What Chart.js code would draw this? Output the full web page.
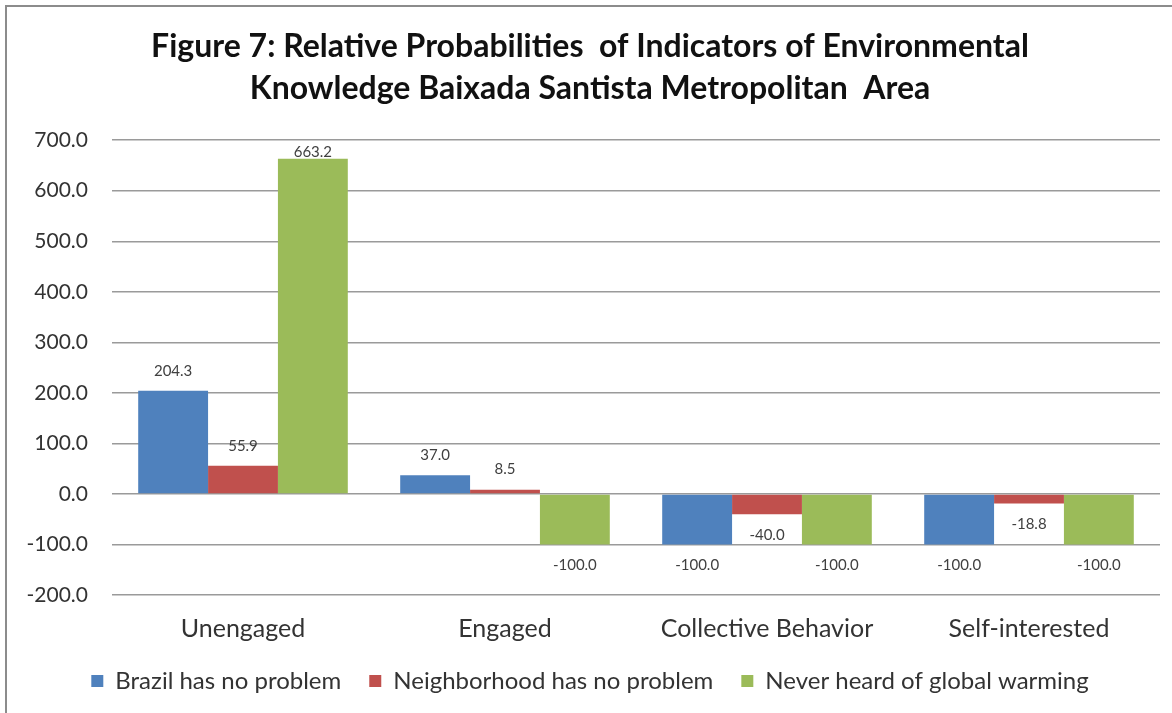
<!DOCTYPE html>
<html>
<head>
<meta charset="utf-8">
<script src="https://cdn.jsdelivr.net/npm/chart.js@4.4.1/dist/chart.umd.min.js"></script>
<style>
  body { margin: 0; background: #fff; }
  #wrap { position: relative; width: 1172px; height: 713px; }
  #frame { position: absolute; left: 5px; top: 5px; width: 1167px; height: 708px;
           border-top: 2px solid #8c8c8c; border-left: 2px solid #8c8c8c; pointer-events: none; }
</style>
</head>
<body>
<div id="wrap">
  <canvas id="chart" width="1172" height="713"></canvas>
  <div id="frame"></div>
</div>
<script>
// données
const categories = ["Unengaged", "Engaged", "Collective Behavior", "Self-interested"];
const brazilNoProblem = [204.3, 37.0, -100.0, -100.0];
const neighborhoodNoProblem = [55.9, 8.5, -40.0, -18.8];
const neverHeard = [663.2, -100.0, -100.0, -100.0];
const seriesNames = ["Brazil has no problem", "Neighborhood has no problem", "Never heard of global warming"];
const seriesColors = ["#4F81BD", "#C0504D", "#9BBB59"];
const titleLines = ["Figure 7: Relative Probabilities  of Indicators of Environmental", "Knowledge Baixada Santista Metropolitan  Area"];

const FONT = "Lato, 'Open Sans', sans-serif";

// étiquettes de valeurs au bout des barres
const valueLabels = {
  id: "valueLabels",
  afterDatasetsDraw(chart) {
    const ctx = chart.ctx;
    const area = chart.chartArea;
    ctx.save();
    ctx.font = "15px " + FONT;
    ctx.fillStyle = "#404040";
    ctx.textAlign = "center";
    ctx.textBaseline = "middle";
    chart.data.datasets.forEach((ds, i) => {
      chart.getDatasetMeta(i).data.forEach((bar, j) => {
        const v = ds.data[j];
        let y = v >= 0 ? bar.y - 20 : bar.y + 21;
        if (y < area.top + 12) y = area.top + 12;
        ctx.fillText(v.toFixed(1), bar.x, y);
      });
    });
    ctx.restore();
  }
};

new Chart(document.getElementById("chart"), {
  type: "bar",
  data: {
    labels: categories,
    datasets: [
      { label: seriesNames[0], data: brazilNoProblem, backgroundColor: seriesColors[0] },
      { label: seriesNames[1], data: neighborhoodNoProblem, backgroundColor: seriesColors[1] },
      { label: seriesNames[2], data: neverHeard, backgroundColor: seriesColors[2] }
    ]
  },
  options: {
    responsive: false,
    animation: false,
    layout: { padding: { left: 20, right: 12, top: 8, bottom: 10 } },
    datasets: { bar: { barPercentage: 1, categoryPercentage: 0.8 } },
    scales: {
      y: {
        min: -200, max: 700,
        border: { display: false },
        grid: { color: "#9a9a9a", lineWidth: 1.5, drawTicks: false },
        ticks: {
          stepSize: 100, padding: 24, color: "#333",
          font: { family: FONT, size: 21 },
          callback: v => v.toFixed(1)
        },
        afterFit: s => { s.width = 92; }
      },
      x: {
        border: { display: false },
        grid: { display: false, drawTicks: false },
        ticks: { padding: 19, color: "#333", font: { family: FONT, size: 25 } },
        afterFit: s => { s.height = 46; }
      }
    },
    plugins: {
      title: {
        display: true, text: titleLines, color: "#111",
        font: { family: FONT, size: 32, weight: "bold", lineHeight: 1.3 },
        padding: { top: 18, bottom: 31 }
      },
      legend: {
        position: "bottom",
        labels: {
          boxWidth: 12, boxHeight: 12, padding: 28, color: "#333",
          font: { family: FONT, size: 24 }
        }
      },
      tooltip: { enabled: false }
    }
  },
  plugins: [valueLabels]
});
</script>
</body>
</html>
